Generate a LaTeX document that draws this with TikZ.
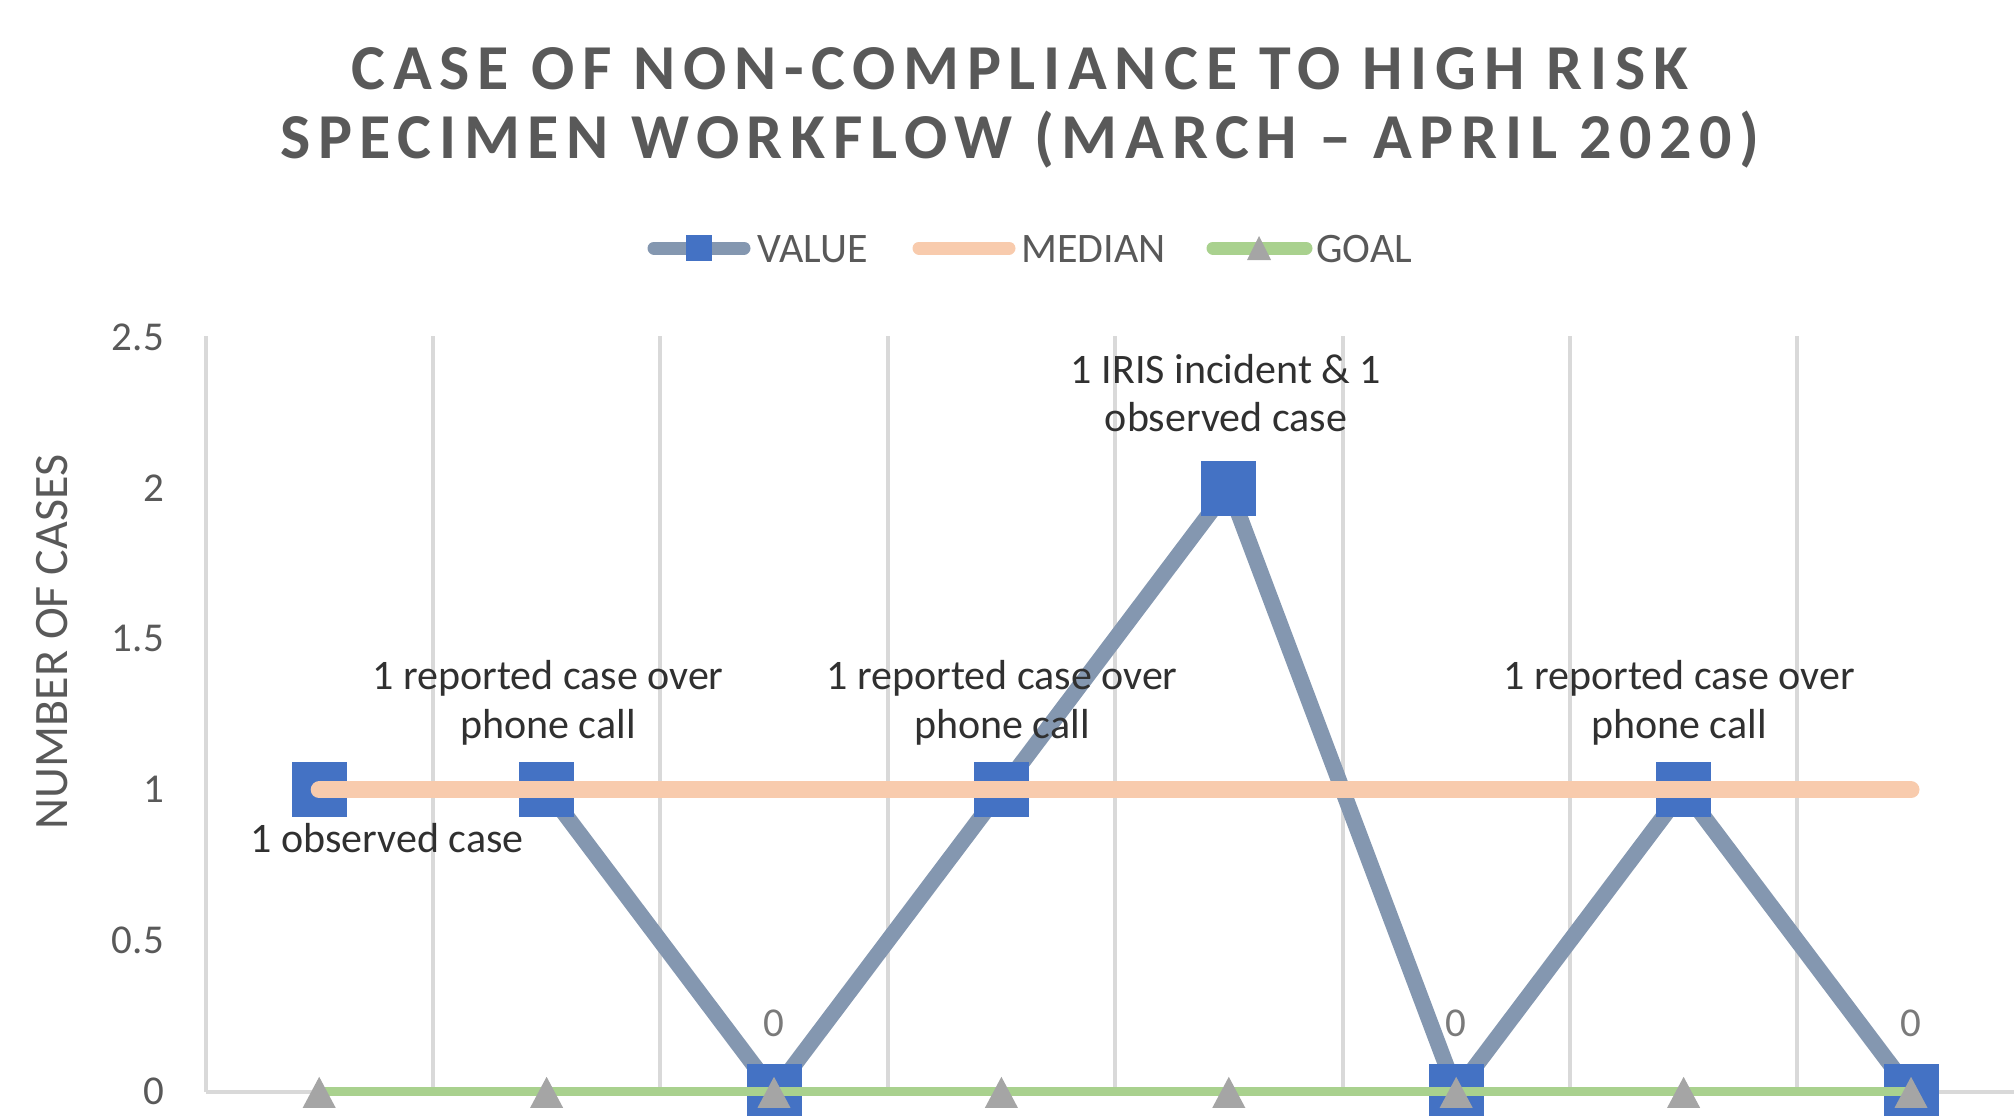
\documentclass[tikz,border=0pt]{standalone}
\usepackage{fontspec}
\setmainfont{Carlito}
\newfontfamily\titlefont{Carlito}[LetterSpace=12]
\definecolor{valline}{HTML}{8497B0}
\definecolor{valmark}{HTML}{4472C4}
\definecolor{medline}{HTML}{F8CBAD}
\definecolor{goalline}{HTML}{A9D18E}
\definecolor{goaltri}{HTML}{A5A5A5}
\definecolor{gridc}{HTML}{D9D9D9}
\definecolor{txtgray}{HTML}{595959}
\definecolor{zerogray}{HTML}{7A7A7A}
\definecolor{labtxt}{HTML}{303030}
\begin{document}
\begin{tikzpicture}[x=1pt,y=-1pt,
  titletxt/.style={inner sep=0pt,anchor=base,text=txtgray,font=\titlefont\bfseries\fontsize{64}{71}\selectfont},
  ticktxt/.style={inner sep=0pt,anchor=base east,text=txtgray,font=\fontsize{41}{48}\selectfont},
  legtxt/.style={inner sep=0pt,anchor=base west,text=txtgray,font=\fontsize{42}{49}\selectfont},
  labeltxt/.style={inner sep=0pt,anchor=base,text=labtxt,font=\fontsize{42}{49}\selectfont},
  zerotxt/.style={inner sep=0pt,anchor=base,text=zerogray,font=\fontsize{41}{48}\selectfont},
  gridln/.style={draw=gridc,line width=4pt},
  valueln/.style={draw=valline,line width=16pt,line join=round},
  medianln/.style={draw=medline,line width=17pt,line cap=round},
  goalln/.style={draw=goalline,line width=9pt,line cap=round},
  sqmark/.style={fill=valmark,inner sep=0pt,minimum size=55pt,draw=none},
  sqleg/.style={fill=valmark,inner sep=0pt,minimum size=26pt,draw=none},
  trifill/.style={fill=goaltri}
]
\useasboundingbox (0,0) rectangle (2014,1116);
\clip (0,0) rectangle (2014,1116);

% title
\node[titletxt] (t1) at (1020,89) {CASE OF NON-COMPLIANCE TO HIGH RISK};
\node[titletxt] (t2) at (1020,158) {SPECIMEN WORKFLOW (MARCH – APRIL 2020)};

% legend
\coordinate (lva) at (654,248); \coordinate (lvb) at (744,248);
\draw[draw=valline,line width=13pt,line cap=round] (lva) -- (lvb);
\node[sqleg] (lvm) at (699,248) {};
\node[legtxt] (lvt) at (757,262) {VALUE};
\coordinate (lma) at (919,248); \coordinate (lmb) at (1009,248);
\draw[draw=medline,line width=13pt,line cap=round] (lma) -- (lmb);
\node[legtxt] (lmt) at (1021,262) {MEDIAN};
\coordinate (lga) at (1213,248); \coordinate (lgb) at (1306,248);
\draw[draw=goalline,line width=13pt,line cap=round] (lga) -- (lgb);
\fill[trifill] (1259,248) ++(-12,12) -- ++(12,-24) -- ++(12,24) -- cycle;
\node[legtxt] (lgt) at (1316,262) {GOAL};

% axis title
\node[inner sep=0pt,rotate=90,text=txtgray,font=\fontsize{48}{55}\selectfont] (yt) at (52,642) {NUMBER OF CASES};

% gridlines
\foreach \k in {0,...,7} {
  \coordinate (gt\k) at ({205.5+227.4*\k},336);
  \coordinate (gb\k) at ({205.5+227.4*\k},1091.8);
  \draw[gridln] (gt\k) -- (gb\k);
}
\coordinate (axr) at (2020,1091.8);
\draw[gridln] (gb0) -- (axr);

% tick labels
\foreach \v/\lab in {0/0,0.5/0.5,1/1,1.5/1.5,2/2,2.5/2.5} {
  \node[ticktxt] (tk\lab) at (164,{1091.8-301.9*\v+13}) {\lab};
}

% data
\foreach \i/\v in {1/1,2/1,3/0,4/1,5/2,6/0,7/1,8/0} {
  \coordinate (v\i) at ({319.2+227.4*(\i-1)},{1091.8-301.9*\v});
  \coordinate (g\i) at ({319.2+227.4*(\i-1)},1091.8);
}
\coordinate (md1) at (319.2,789.9);
\coordinate (md8) at (1911,789.9);

\draw[valueln] (v1) -- (v2) -- (v3) -- (v4) -- (v5) -- (v6) -- (v7) -- (v8);
\foreach \i in {1,...,8} { \node[sqmark] (m\i) at (v\i) {}; }
\draw[medianln] (md1) -- (md8);
\draw[goalln] (g1) -- (g8);
\foreach \i in {1,...,8} { \fill[trifill] (g\i) ++(-16.5,16) -- ++(16.5,-31) -- ++(16.5,31) -- cycle; }

% data labels
\node[labeltxt] (l1) at (387,852) {1 observed case};
\node[labeltxt] (l2a) at (548,689) {1 reported case over};
\node[labeltxt] (l2b) at (548,738) {phone call};
\node[labeltxt] (l4a) at (1002,689) {1 reported case over};
\node[labeltxt] (l4b) at (1002,738) {phone call};
\node[labeltxt] (l5a) at (1226,383) {1 IRIS incident \& 1};
\node[labeltxt] (l5b) at (1226,431) {observed case};
\node[labeltxt] (l7a) at (1679,689) {1 reported case over};
\node[labeltxt] (l7b) at (1679,738) {phone call};
\node[zerotxt] (z3) at (774,1036) {0};
\node[zerotxt] (z6) at (1456,1036) {0};
\node[zerotxt] (z8) at (1911,1036) {0};
\end{tikzpicture}
\end{document}
